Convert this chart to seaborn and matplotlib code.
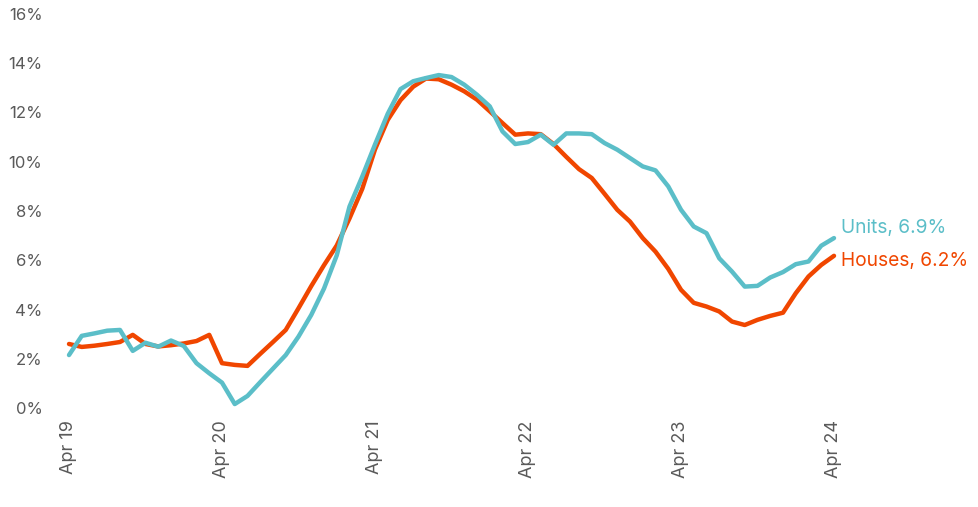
import matplotlib
matplotlib.use("Agg")
import matplotlib.pyplot as plt
import seaborn as sns
import pandas as pd
import numpy as np

months = pd.date_range("2019-04-01", "2024-04-01", freq="MS")
tick_labels = ["Apr 19", "Apr 20", "Apr 21", "Apr 22", "Apr 23", "Apr 24"]

houses = [2.60, 2.48, 2.53, 2.60, 2.68, 2.97, 2.60, 2.50, 2.55, 2.62, 2.72, 2.97,
          1.82, 1.75, 1.71, 2.20, 2.68, 3.17, 4.05, 4.95, 5.80, 6.60, 7.70, 8.90,
          10.50, 11.70, 12.50, 13.05, 13.38, 13.35, 13.13, 12.86, 12.52, 12.05, 11.57, 11.10,
          11.15, 11.12, 10.72, 10.20, 9.70, 9.34, 8.70, 8.05, 7.57, 6.90, 6.35, 5.65,
          4.80, 4.27, 4.12, 3.92, 3.51, 3.37, 3.58, 3.74, 3.87, 4.66, 5.34, 5.81, 6.18]

units = [2.15, 2.93, 3.03, 3.14, 3.17, 2.32, 2.65, 2.49, 2.74, 2.52, 1.82, 1.41,
         1.03, 0.16, 0.49, 1.05, 1.60, 2.15, 2.90, 3.78, 4.85, 6.20, 8.18, 9.40,
         10.70, 11.95, 12.95, 13.27, 13.40, 13.52, 13.44, 13.13, 12.72, 12.25, 11.23, 10.72,
         10.80, 11.10, 10.69, 11.15, 11.15, 11.12, 10.76, 10.49, 10.15, 9.81, 9.65, 9.00,
         8.05, 7.37, 7.10, 6.08, 5.54, 4.93, 4.96, 5.30, 5.52, 5.84, 5.95, 6.59, 6.90]

series_names = ["Houses", "Units"]
colors = {"Houses": "#F04600", "Units": "#5BBEC8"}

idx = np.arange(len(months))
df = pd.concat([
    pd.DataFrame({"t": idx, "value": houses, "series": "Houses"}),
    pd.DataFrame({"t": idx, "value": units, "series": "Units"}),
])

sns.set_style("white")
plt.rcParams["font.family"] = ["Inter", "DejaVu Sans"]

fig = plt.figure(figsize=(9.79, 5.07), dpi=100)
W, H = 979, 507
left_px, right_px = 55, 975
ax = fig.add_axes([left_px / W, (H - 408) / H, (right_px - left_px) / W, (408 - 14) / H])

sns.lineplot(data=df, x="t", y="value", hue="series", palette=colors,
             hue_order=series_names, linewidth=3.2, ax=ax, legend=False)

ppm = (834 - 69) / 60.0
ax.set_xlim(-(69 - left_px) / ppm, 60 + (right_px - 834) / ppm)
ax.set_ylim(0, 16)

ax.set_yticks(np.arange(0, 17, 2))
ax.set_yticklabels([f"{v}%" for v in range(0, 17, 2)])
ax.set_xticks(idx[::12])
ax.set_xticklabels(tick_labels, rotation=90)
ax.tick_params(axis="both", length=0, labelcolor="#5a5a5a")
ax.tick_params(axis="y", pad=9, labelsize=12)
ax.tick_params(axis="x", pad=9, labelsize=13)
ax.set_xlabel("")
ax.set_ylabel("")
for s in ax.spines.values():
    s.set_visible(False)
ax.grid(False)

ax.annotate(f"Units, {units[-1]:.1f}%", xy=(idx[-1], units[-1]), xytext=(5, 7),
            textcoords="offset points", color=colors["Units"], fontsize=13.8,
            va="center", ha="left")
ax.annotate(f"Houses, {houses[-1]:.1f}%", xy=(idx[-1], houses[-1]), xytext=(5, -4),
            textcoords="offset points", color=colors["Houses"], fontsize=13.8,
            va="center", ha="left")

fig.savefig("out.png", dpi=100)
